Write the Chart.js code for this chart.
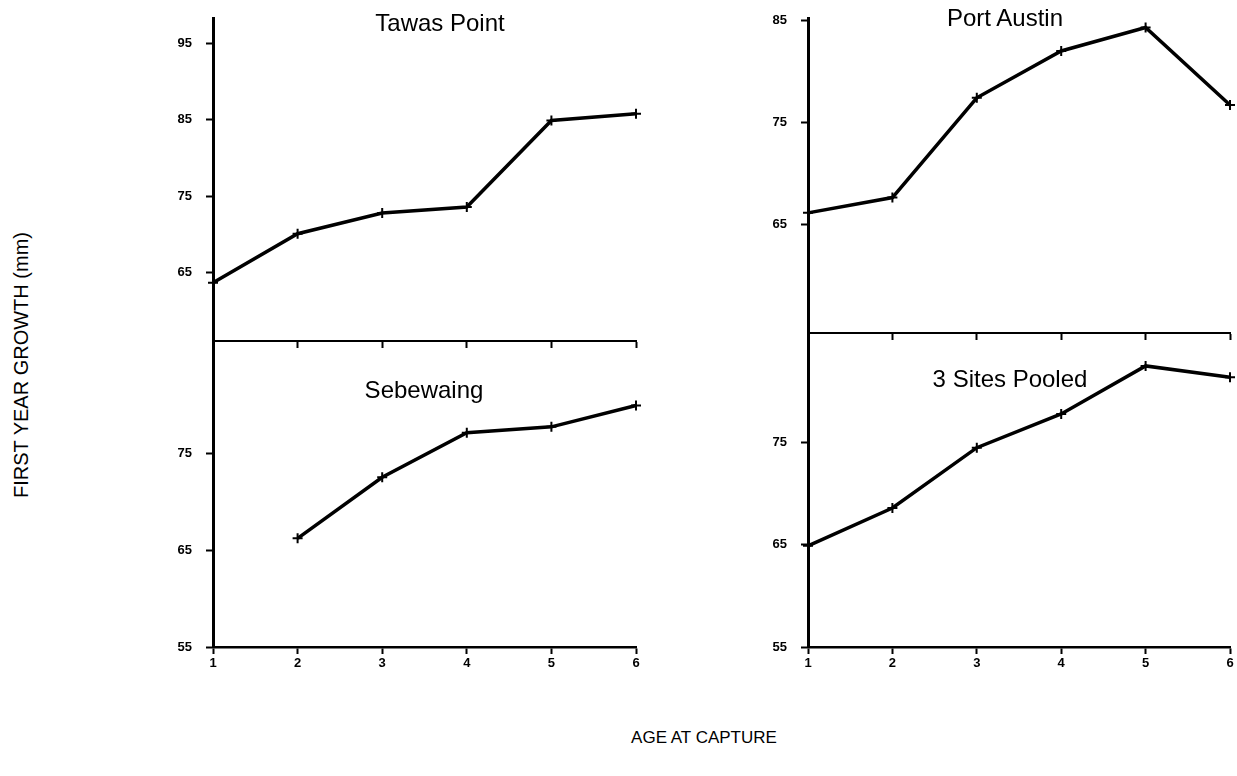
<!DOCTYPE html>
<html>
<head>
<meta charset="utf-8">
<script src="https://cdn.jsdelivr.net/npm/chart.js@4"></script>
<style>
  html, body { margin: 0; padding: 0; background: #fff; }
  #wrap { position: relative; width: 1237px; height: 776px; background: #fff; overflow: hidden;
          font-family: "Liberation Sans", Arial, Helvetica, sans-serif; color: #000; }
  canvas { position: absolute; }
  .lbl { position: absolute; white-space: nowrap; transform: translate(-50%, -50%); line-height: 1; }
</style>
</head>
<body>
<div id="wrap">
  <canvas id="tl"></canvas>
  <canvas id="bl"></canvas>
  <canvas id="tr"></canvas>
  <canvas id="br"></canvas>
  <div class="lbl" style="left:440px; top:23px; font-size:24px;">Tawas Point</div>
  <div class="lbl" style="left:1005px; top:18px; font-size:24px;">Port Austin</div>
  <div class="lbl" style="left:424px; top:390px; font-size:24px;">Sebewaing</div>
  <div class="lbl" style="left:1010px; top:379px; font-size:24px;">3 Sites Pooled</div>
  <div class="lbl" style="left:21px; top:365px; font-size:20px; transform: translate(-50%, -50%) rotate(-90deg);">FIRST YEAR GROWTH (mm)</div>
  <div class="lbl" style="left:704px; top:737px; font-size:17px;">AGE AT CAPTURE</div>
</div>
<script>
// ---- data ----
const ages = ['1', '2', '3', '4', '5', '6'];
const tawasPoint = [63.7, 70.1, 72.8, 73.6, 84.9, 85.8];
const portAustin = [66.1, 67.6, 77.4, 82.0, 84.3, 76.7];
const sebewaing  = [null, 66.2, 72.5, 77.1, 77.7, 79.9];
const pooled     = [64.9, 68.6, 74.5, 77.8, 82.5, 81.4];
const tawasTicks = [65, 75, 85, 95];
const austinTicks = [65, 75, 85];
const sebewaingTicks = [55, 65, 75];
const pooledTicks = [55, 65, 75];

const FONT = '"Liberation Sans", Arial, Helvetica, sans-serif';

function makePanel(id, values, yTicks, yMin, yMax, showX, g) {
  const cv = document.getElementById(id);
  cv.width = g.w; cv.height = g.h;
  cv.style.left = g.left + 'px'; cv.style.top = g.top + 'px';
  cv.style.width = g.w + 'px'; cv.style.height = g.h + 'px';
  return new Chart(cv, {
    type: 'line',
    data: {
      labels: ages,
      datasets: [{
        data: values,
        borderColor: '#000',
        borderWidth: 3.5,
        tension: 0,
        fill: false,
        pointStyle: 'cross',
        pointRadius: 5,
        pointBorderWidth: 2,
        pointBorderColor: '#000',
        pointBackgroundColor: '#000',
        clip: false
      }]
    },
    options: {
      responsive: false,
      animation: false,
      devicePixelRatio: 1,
      layout: { padding: { top: g.padTop, right: g.padRight, left: 0, bottom: 0 } },
      plugins: { legend: { display: false }, tooltip: { enabled: false }, title: { display: false } },
      scales: {
        x: {
          type: 'category',
          offset: false,
          grid: { display: true, drawOnChartArea: false, drawTicks: true, tickLength: 7,
                  tickColor: '#000', tickWidth: 2, color: '#000' },
          border: { display: true, color: '#000', width: showX ? 2.5 : 2 },
          ticks: { display: showX, color: '#000', padding: 2, maxRotation: 0, autoSkip: false,
                   font: { family: FONT, size: 13, weight: 'bold' } },
          afterFit: s => { s.height = g.xH; s.paddingLeft = 0; s.paddingRight = 0; }
        },
        y: {
          type: 'linear',
          min: yMin, max: yMax,
          grid: { display: true, drawOnChartArea: false, drawTicks: true, tickLength: 7,
                  tickColor: '#000', tickWidth: 2, color: '#000' },
          border: { display: true, color: '#000', width: 3 },
          ticks: { color: '#000', padding: 14, font: { family: FONT, size: 13, weight: 'bold' } },
          afterBuildTicks: s => { s.ticks = yTicks.map(v => ({ value: v })); },
          afterFit: s => { s.width = g.yW; s.paddingTop = 0; s.paddingBottom = 0; }
        }
      }
    }
  });
}

makePanel('tl', tawasPoint, tawasTicks, 56.07, 98.31, false,
  { left: 150, top: 0, w: 500, h: 350, yW: 63, xH: 9, padTop: 18, padRight: 14 });
makePanel('bl', sebewaing, sebewaingTicks, 55, 86.55, true,
  { left: 150, top: 330, w: 500, h: 346, yW: 63, xH: 29, padTop: 11, padRight: 14 });
makePanel('tr', portAustin, austinTicks, 54.3, 85.24, false,
  { left: 740, top: 0, w: 497, h: 342, yW: 68, xH: 9, padTop: 18, padRight: 6 });
makePanel('br', pooled, pooledTicks, 55, 85.72, true,
  { left: 740, top: 323, w: 497, h: 353, yW: 68, xH: 29, padTop: 10, padRight: 6 });
</script>
</body>
</html>
